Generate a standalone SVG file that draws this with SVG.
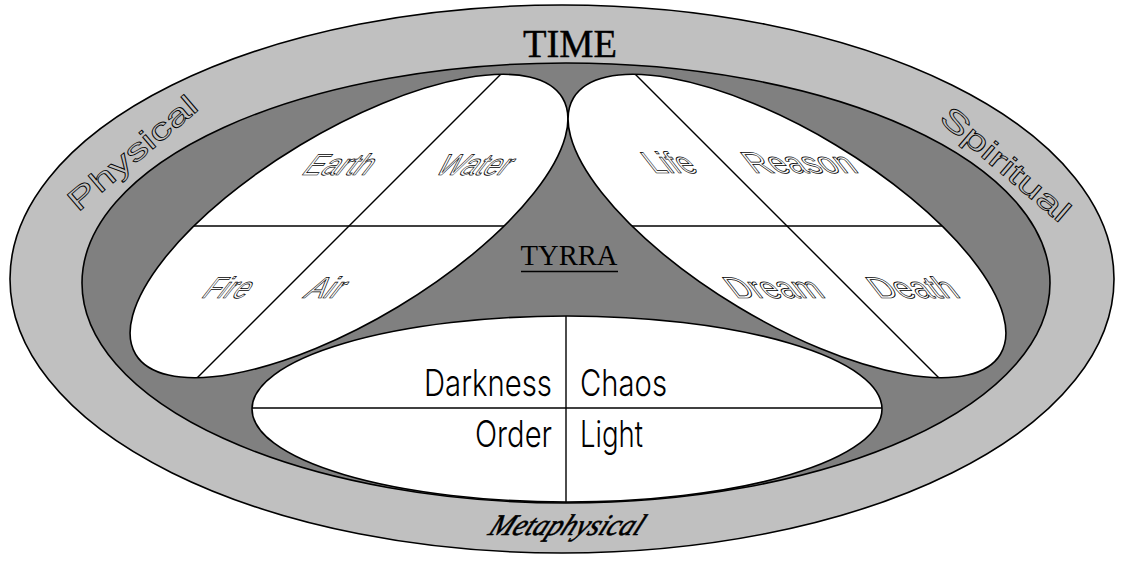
<svg xmlns="http://www.w3.org/2000/svg" width="1123" height="561" viewBox="0 0 1123 561">
<style>
.ln{stroke:#000;stroke-width:1.4;fill:none}
.wh{fill:#fff;stroke:#000;stroke-width:1.6}
.hol{font-family:"Liberation Sans",Arial,sans-serif;font-size:30px;fill:none;stroke:#000;stroke-width:0.75}
.quad{font-family:Inter,"Liberation Sans",sans-serif;font-weight:300;font-size:37px;fill:#000}
.ser{font-family:"Liberation Serif","Times New Roman",serif;fill:#000}
</style>
<rect width="1123" height="561" fill="#fff"/>
<g id="band-outer">
<ellipse cx="562" cy="279" rx="552" ry="274" fill="#c0c0c0" stroke="#000" stroke-width="1.6"/>
<text class="hol" transform="translate(139,161) rotate(-40.4)" text-anchor="middle" font-size="28" textLength="160" lengthAdjust="spacingAndGlyphs">Physical</text>
<text class="hol" transform="translate(999,172) rotate(40.4)" text-anchor="middle" font-size="28" textLength="160" lengthAdjust="spacingAndGlyphs">Spiritual</text>
<text class="ser" transform="translate(487,535) skewX(-25)" font-style="italic" font-size="30" fill="none" stroke="#000" stroke-width="0.6" textLength="152" lengthAdjust="spacingAndGlyphs">Metaphysical</text>
<text class="ser" x="570" y="57" text-anchor="middle" font-size="40" stroke="#000" stroke-width="0.4" textLength="94" lengthAdjust="spacingAndGlyphs">TIME</text>
</g>
<g id="band-inner">
<ellipse cx="566" cy="283" rx="484" ry="220" fill="#808080" stroke="#000" stroke-width="1.6"/>
<text class="ser" x="569" y="265" text-anchor="middle" font-size="30" textLength="97" lengthAdjust="spacingAndGlyphs">TYRRA</text>
<line class="ln" x1="521" y1="271.5" x2="618" y2="271.5"/>
</g>
<g id="node-elements">
<ellipse class="wh" cx="349" cy="226" rx="249" ry="94.5" transform="rotate(-31 349 226)"/>
<line class="ln" x1="194" y1="226" x2="504" y2="226"/>
<line class="ln" x1="500.5" y1="74.5" x2="197.5" y2="377.5"/>
<text class="hol" transform="translate(300,175) skewX(-38)" textLength="66" lengthAdjust="spacingAndGlyphs">Earth</text>
<text class="hol" transform="translate(433,175) skewX(-38)" textLength="71" lengthAdjust="spacingAndGlyphs">Water</text>
<text class="hol" transform="translate(200,298) skewX(-38)" textLength="44" lengthAdjust="spacingAndGlyphs">Fire</text>
<text class="hol" transform="translate(302,298) skewX(-38)" textLength="35" lengthAdjust="spacingAndGlyphs">Air</text>
</g>
<g id="node-spirits">
<ellipse class="wh" cx="787" cy="226" rx="249" ry="94.5" transform="rotate(31 787 226)"/>
<line class="ln" x1="632" y1="226" x2="942" y2="226"/>
<line class="ln" x1="635.5" y1="74.5" x2="938.5" y2="377.5"/>
<text class="hol" transform="translate(654,173) skewX(38)" textLength="46" lengthAdjust="spacingAndGlyphs">Life</text>
<text class="hol" transform="translate(754,173) skewX(38)" textLength="106" lengthAdjust="spacingAndGlyphs">Reason</text>
<text class="hol" transform="translate(736,298) skewX(38)" textLength="91" lengthAdjust="spacingAndGlyphs">Dream</text>
<text class="hol" transform="translate(879,298) skewX(38)" textLength="83" lengthAdjust="spacingAndGlyphs">Death</text>
</g>
<g id="node-forces">
<ellipse class="wh" cx="567" cy="409" rx="315" ry="93"/>
<line class="ln" x1="252" y1="408" x2="882" y2="408"/>
<line class="ln" x1="566" y1="316" x2="566" y2="502"/>
<text class="quad" x="552" y="396" text-anchor="end" textLength="128" lengthAdjust="spacingAndGlyphs">Darkness</text>
<text class="quad" x="580" y="396" textLength="87" lengthAdjust="spacingAndGlyphs">Chaos</text>
<text class="quad" x="552" y="447" text-anchor="end" textLength="77" lengthAdjust="spacingAndGlyphs">Order</text>
<text class="quad" x="580" y="447" textLength="63" lengthAdjust="spacingAndGlyphs">Light</text>
</g>
<g id="connectors"></g>
</svg>
